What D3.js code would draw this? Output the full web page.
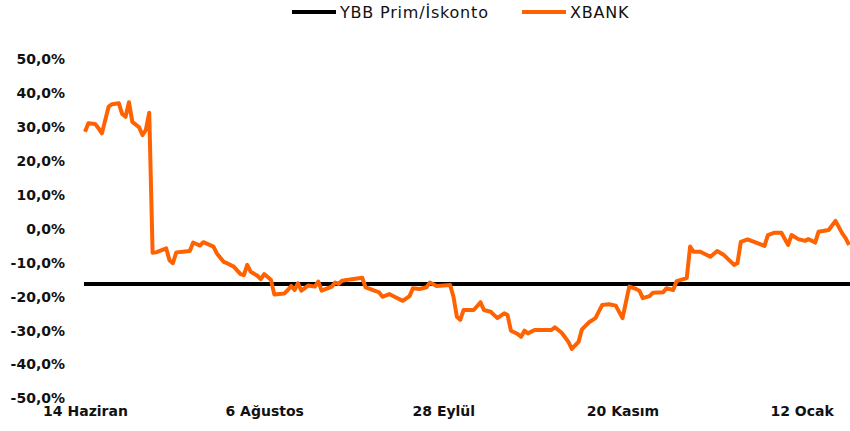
<!DOCTYPE html>
<html>
<head>
<meta charset="utf-8">
<script src="https://cdn.jsdelivr.net/npm/d3@7"></script>
<style>
  body { margin: 0; background: #fff; }
  svg { display: block; }
</style>
</head>
<body>
<svg id="chart" width="850" height="431"></svg>
<script>
// tarihler (gün) ve XBANK prim/iskonto değerleri (%)
const dates = [
  "2023-06-14","2023-06-15","2023-06-17","2023-06-18","2023-06-19","2023-06-21","2023-06-22","2023-06-24",
  "2023-06-25","2023-06-26","2023-06-27","2023-06-28","2023-06-30","2023-07-01","2023-07-02","2023-07-03",
  "2023-07-04","2023-07-05","2023-07-08","2023-07-09","2023-07-10","2023-07-11","2023-07-13","2023-07-15",
  "2023-07-16","2023-07-18","2023-07-19","2023-07-22","2023-07-23","2023-07-25","2023-07-26","2023-07-28",
  "2023-07-30","2023-07-31","2023-08-01","2023-08-02","2023-08-04","2023-08-05","2023-08-06","2023-08-08",
  "2023-08-09","2023-08-12","2023-08-13","2023-08-14","2023-08-15","2023-08-16","2023-08-17","2023-08-19",
  "2023-08-21","2023-08-22","2023-08-23","2023-08-26","2023-08-27","2023-08-28","2023-08-29","2023-09-01",
  "2023-09-04","2023-09-05","2023-09-08","2023-09-09","2023-09-10","2023-09-12","2023-09-14","2023-09-16",
  "2023-09-18","2023-09-19","2023-09-21","2023-09-23","2023-09-24","2023-09-26","2023-09-30","2023-10-01",
  "2023-10-02","2023-10-03","2023-10-04","2023-10-07","2023-10-09","2023-10-10","2023-10-12","2023-10-14",
  "2023-10-16","2023-10-17","2023-10-18","2023-10-20","2023-10-21","2023-10-22","2023-10-23","2023-10-25",
  "2023-10-30","2023-10-31","2023-11-02","2023-11-04","2023-11-05","2023-11-07","2023-11-08","2023-11-10",
  "2023-11-12","2023-11-14","2023-11-16","2023-11-18","2023-11-20","2023-11-22","2023-11-24","2023-11-25",
  "2023-11-26","2023-11-28","2023-11-29","2023-12-02","2023-12-03","2023-12-05","2023-12-06","2023-12-09",
  "2023-12-10","2023-12-11","2023-12-13","2023-12-16","2023-12-18","2023-12-20","2023-12-23","2023-12-24",
  "2023-12-25","2023-12-27","2024-01-01","2024-01-02","2024-01-04","2024-01-06","2024-01-08","2024-01-09",
  "2024-01-11","2024-01-13","2024-01-14","2024-01-16","2024-01-17","2024-01-20","2024-01-22","2024-01-24",
  "2024-01-25","2024-01-26"
];
const xbank = [
  28.5, 31.0, 30.8, 29.5, 28.0, 35.9, 36.6, 36.9,
  33.7, 32.9, 37.2, 31.4, 29.8, 27.5, 29.0, 34.1,
  -7.2, -7.1, -5.9, -9.4, -10.3, -7.1, -6.9, -6.7,
  -4.2, -5.1, -4.1, -5.4, -7.4, -9.9, -10.3, -11.3,
  -13.5, -13.8, -10.8, -12.8, -14.0, -15.0, -13.5, -15.2,
  -19.5, -19.2, -18.2, -17.0, -18.2, -16.2, -18.4, -16.9,
  -17.2, -15.7, -18.4, -17.2, -16.0, -16.4, -15.5, -15.0,
  -14.6, -17.4, -18.5, -18.9, -20.2, -19.4, -20.4, -21.4,
  -20.0, -17.7, -17.9, -17.4, -16.0, -17.0, -16.7, -20.2,
  -26.1, -27.0, -24.1, -24.1, -21.8, -24.1, -24.6, -26.5,
  -25.1, -25.6, -30.2, -31.2, -32.0, -30.2, -31.0, -30.0,
  -30.0, -29.2, -30.8, -33.5, -35.6, -33.5, -29.8, -27.8,
  -26.5, -22.6, -22.4, -22.8, -26.5, -17.2, -17.9, -18.4,
  -20.6, -20.0, -19.0, -18.9, -17.7, -18.2, -15.6, -14.7,
  -5.4, -6.9, -6.9, -8.4, -6.7, -7.9, -10.8, -10.3,
  -4.0, -3.3, -5.2, -2.0, -1.3, -1.3, -4.9, -2.0,
  -3.2, -3.7, -3.2, -4.2, -1.0, -0.5, 2.2, -1.5,
  -2.9, -4.9
];
const ybbLevel = -16.4; // YBB Prim/İskonto (sabit)

const yTicks = [50, 40, 30, 20, 10, 0, -10, -20, -30, -40, -50];
const xTickDates = ["2023-06-14", "2023-08-06", "2023-09-28", "2023-11-20", "2024-01-12"];
const xTickLabels = ["14 Haziran", "6 Ağustos", "28 Eylül", "20 Kasım", "12 Ocak"];

const seriesNames = ["YBB Prim/İskonto", "XBANK"];
const colors = ["#000000", "#ff6200"];

const parse = d3.timeParse("%Y-%m-%d");
const data = dates.map((d, i) => ({ date: parse(d), value: xbank[i] }));

const svg = d3.select("#chart");
const font = "'DejaVu Sans', Verdana, sans-serif";

const x = d3.scaleTime()
  .domain([parse(dates[0]), parse(dates[dates.length - 1])])
  .range([85, 849]);

const y = d3.scaleLinear()
  .domain([-50, 50])
  .range([397.8, 58.8]);

// y ekseni
const pct = (v) => d3.format(".1f")(v).replace("−", "-").replace(".", ",") + "%";
svg.append("g")
  .attr("transform", "translate(65,0)")
  .call(d3.axisLeft(y).tickValues(yTicks).tickSize(0).tickPadding(0).tickFormat(pct))
  .call((g) => g.select(".domain").remove())
  .call((g) => g.selectAll(".tick text")
    .attr("dy", "0.36em")
    .style("font-family", font).style("font-size", "14px").style("font-weight", "bold").style("fill", "#111"));

// x ekseni
const tickMap = new Map(xTickDates.map((d, i) => [+parse(d), xTickLabels[i]]));
svg.append("g")
  .attr("transform", "translate(0,406)")
  .call(d3.axisBottom(x).tickValues(xTickDates.map(parse)).tickSize(0).tickPadding(0)
    .tickFormat((d) => tickMap.get(+d)))
  .call((g) => g.select(".domain").remove())
  .call((g) => g.selectAll(".tick text")
    .attr("dy", "0.71em")
    .style("font-family", font).style("font-size", "14px").style("font-weight", "bold").style("fill", "#111"));

// YBB çizgisi
svg.append("line")
  .attr("x1", x.range()[0] - 1)
  .attr("x2", 850)
  .attr("y1", y(ybbLevel))
  .attr("y2", y(ybbLevel))
  .attr("stroke", colors[0])
  .attr("stroke-width", 4);

// XBANK çizgisi
const line = d3.line()
  .x((d) => x(d.date))
  .y((d) => y(d.value));

svg.append("path")
  .datum(data)
  .attr("d", line)
  .attr("fill", "none")
  .attr("stroke", colors[1])
  .attr("stroke-width", 4)
  .attr("stroke-linejoin", "round");

// lejant
const legendX = [292, 522];
const legend = svg.append("g");
seriesNames.forEach((name, i) => {
  legend.append("line")
    .attr("x1", legendX[i]).attr("x2", legendX[i] + 44)
    .attr("y1", 12).attr("y2", 12)
    .attr("stroke", colors[i]).attr("stroke-width", 4);
  legend.append("text")
    .attr("x", legendX[i] + 48)
    .attr("y", 12)
    .attr("dy", "0.36em")
    .style("font-family", font).style("font-size", "16px").style("letter-spacing", "0.8px")
    .style("fill", "#111")
    .text(name);
});
</script>
</body>
</html>
